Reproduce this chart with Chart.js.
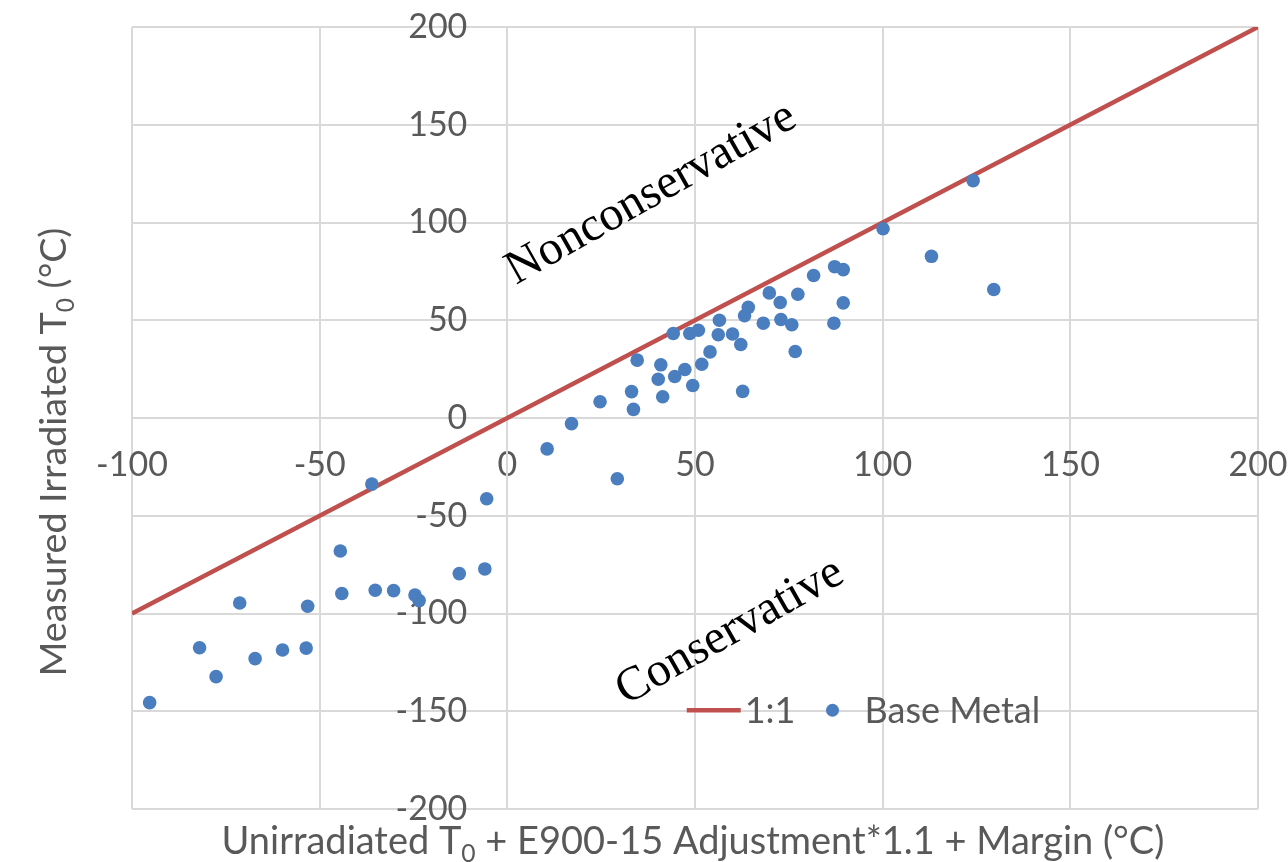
<!DOCTYPE html>
<html>
<head>
<meta charset="utf-8">
<script src="https://cdn.jsdelivr.net/npm/chart.js@4.4.1/dist/chart.umd.min.js"></script>
<style>
  html, body { margin: 0; padding: 0; background: #fff; }
  #wrap { width: 1288px; height: 862px; }
</style>
</head>
<body>
<div id="wrap"><canvas id="chart"></canvas></div>
<script>
// data
const baseMetalX = [-95.3, -82, -77.6, -71.3, -67.2, -59.9, -53.6, -53.2, -44.5, -44.1,
    -36.1, -35.2, -30.3, -24.6, -23.5, -12.8, -6, -5.5, 10.6, 17.1,
    24.7, 29.3, 33.1, 33.6, 34.6, 40.2, 40.9, 41.4, 44.2, 44.6,
    47.3, 48.6, 49.4, 50.9, 51.8, 54, 56.2, 56.5, 60, 62.2,
    62.7, 63.2, 64.2, 68.2, 69.8, 72.7, 72.9, 75.8, 76.7, 77.4,
    81.6, 87.2, 89.5, 89.5, 87, 100.1, 113, 124.1, 129.6];
const baseMetalY = [-145.6, -117.5, -132.3, -94.6, -123.1, -118.7, -117.7, -96.3, -68, -89.8,
    -33.8, -88.1, -88.3, -90.6, -93.4, -79.6, -77.2, -41.3, -15.8, -2.9,
    8.3, -31.1, 13.5, 4.4, 29.6, 19.8, 27.2, 10.9, 43.2, 21.2,
    24.8, 43.2, 16.6, 44.9, 27.5, 33.8, 42.6, 50, 43, 37.6,
    13.6, 52.3, 56.6, 48.5, 64, 59.1, 50.4, 47.7, 34, 63.3,
    72.9, 77.4, 75.9, 58.9, 48.5, 96.8, 82.7, 121.4, 65.7];
const oneToOneX = [-100, 200];
const oneToOneY = [-100, 200];

const xTicks = [-100, -50, 0, 50, 100, 150, 200];
const yTicks = [-200, -150, -100, -50, 0, 50, 100, 150, 200];
const seriesLabels = ['1:1', 'Base Metal'];
const xTitle = ['Unirradiated T', '0', ' + E900-15 Adjustment*1.1 + Margin (°C)'];
const yTitle = ['Measured Irradiated T', '0', ' (°C)'];
const regionLabels = ['Nonconservative', 'Conservative'];

const RED = '#c0504d';
const BLUE = '#4a7ebf';
const GREY_TEXT = '#595959';
const GRID = '#d9d9d9';
const SANS = 'Lato, "Open Sans", sans-serif';
const TICK_FONT = `34px ${SANS}`;

function toPoints(xs, ys) {
    return xs.map((x, i) => ({ x: x, y: ys[i] }));
}

// title with a subscript part, drawn centred on (0,0) of the current transform
function drawSubTitle(ctx, parts, targetWidth) {
    ctx.font = `100px ${SANS}`;
    let w = ctx.measureText(parts[0]).width + ctx.measureText(parts[2]).width;
    ctx.font = `65px ${SANS}`;
    w += ctx.measureText(parts[1]).width;
    const size = 100 * targetWidth / w;
    const sub = size * 0.65;

    ctx.fillStyle = GREY_TEXT;
    ctx.textBaseline = 'alphabetic';
    ctx.textAlign = 'left';
    let x = -targetWidth / 2;
    ctx.font = `${size}px ${SANS}`;
    ctx.fillText(parts[0], x, 0);
    x += ctx.measureText(parts[0]).width;
    ctx.font = `${sub}px ${SANS}`;
    ctx.fillText(parts[1], x, size * 0.2);
    x += ctx.measureText(parts[1]).width;
    ctx.font = `${size}px ${SANS}`;
    ctx.fillText(parts[2], x, 0);
}

// axes sit inside the plot, so they must not eat into the layout
function noSpace(s) {
    s.width = s.isHorizontal() ? s.width : 0;
    s.height = s.isHorizontal() ? 0 : s.height;
    s.paddingLeft = s.paddingRight = s.paddingTop = s.paddingBottom = 0;
}

const extras = {
    id: 'extras',
    // y tick labels sit well left of the x=0 axis, under the points
    beforeDatasetsDraw(chart) {
        const ctx = chart.ctx;
        const xs = chart.scales.x, ys = chart.scales.y;
        const ax = xs.getPixelForValue(0);
        ctx.save();
        ctx.font = TICK_FONT;
        ctx.fillStyle = GREY_TEXT;
        ctx.textAlign = 'right';
        ctx.textBaseline = 'middle';
        ys.ticks.forEach(t => {
            ctx.fillText(String(t.value), ax - 40, ys.getPixelForValue(t.value));
        });
        ctx.restore();
    },
    afterDraw(chart) {
        const ctx = chart.ctx;
        const xs = chart.scales.x, ys = chart.scales.y;

        // region labels
        ctx.save();
        ctx.fillStyle = '#000';
        ctx.font = '48px "Liberation Serif", "Times New Roman", serif';
        ctx.textAlign = 'center';
        ctx.textBaseline = 'alphabetic';
        const spots = [[40, 109], [61, -115]];
        regionLabels.forEach((t, i) => {
            ctx.save();
            ctx.translate(xs.getPixelForValue(spots[i][0]), ys.getPixelForValue(spots[i][1]));
            ctx.rotate(-29.5 * Math.PI / 180);
            ctx.fillText(t, 0, 0);
            ctx.restore();
        });
        ctx.restore();

        // legend
        ctx.save();
        const lx = xs.getPixelForValue(47.8);
        const ly = ys.getPixelForValue(-149.5);
        ctx.font = `36px ${SANS}`;
        ctx.textBaseline = 'middle';
        ctx.textAlign = 'left';
        ctx.strokeStyle = RED;
        ctx.lineWidth = 4.5;
        ctx.beginPath();
        ctx.moveTo(lx, ly);
        ctx.lineTo(lx + 54, ly);
        ctx.stroke();
        ctx.fillStyle = GREY_TEXT;
        let tx = lx + 58;
        ctx.fillText(seriesLabels[0], tx, ly + 1);
        tx += ctx.measureText(seriesLabels[0]).width + 37;
        ctx.fillStyle = BLUE;
        ctx.beginPath();
        ctx.arc(tx, ly, 6.5, 0, Math.PI * 2);
        ctx.fill();
        ctx.fillStyle = GREY_TEXT;
        ctx.fillText(seriesLabels[1], tx + 32, ly + 1);
        ctx.restore();

        // axis titles
        ctx.save();
        ctx.translate(693, 854);
        drawSubTitle(ctx, xTitle, 943);
        ctx.restore();

        ctx.save();
        ctx.translate(66, 452);
        ctx.rotate(-Math.PI / 2);
        drawSubTitle(ctx, yTitle, 449);
        ctx.restore();
    }
};

const ctx = document.getElementById('chart').getContext('2d');
new Chart(ctx, {
    data: {
        datasets: [
            {
                type: 'scatter',
                label: seriesLabels[1],
                data: toPoints(baseMetalX, baseMetalY),
                backgroundColor: BLUE,
                borderColor: BLUE,
                pointRadius: 6.8,
                pointBorderWidth: 0,
                order: 1
            },
            {
                type: 'line',
                label: seriesLabels[0],
                data: toPoints(oneToOneX, oneToOneY),
                borderColor: RED,
                borderWidth: 4.5,
                pointRadius: 0,
                fill: false,
                order: 2
            }
        ]
    },
    options: {
        responsive: true,
        maintainAspectRatio: false,
        animation: false,
        layout: { padding: { left: 132, right: 30, top: 27, bottom: 53 } },
        plugins: {
            legend: { display: false },
            tooltip: { enabled: false }
        },
        scales: {
            x: {
                type: 'linear',
                position: { y: 0 },
                min: -100,
                max: 200,
                afterBuildTicks: s => { s.ticks = xTicks.map(v => ({ value: v })); },
                afterFit: noSpace,
                grid: { color: GRID, lineWidth: 2, drawTicks: false },
                border: { color: GRID, width: 2 },
                ticks: { color: GREY_TEXT, font: { family: SANS, size: 34 }, padding: 27, maxRotation: 0 }
            },
            y: {
                type: 'linear',
                position: { x: 0 },
                min: -200,
                max: 200,
                afterBuildTicks: s => { s.ticks = yTicks.map(v => ({ value: v })); },
                afterFit: noSpace,
                grid: { color: GRID, lineWidth: 2, drawTicks: false },
                border: { color: GRID, width: 2 },
                ticks: { display: false }
            }
        }
    },
    plugins: [extras]
});
</script>
</body>
</html>
